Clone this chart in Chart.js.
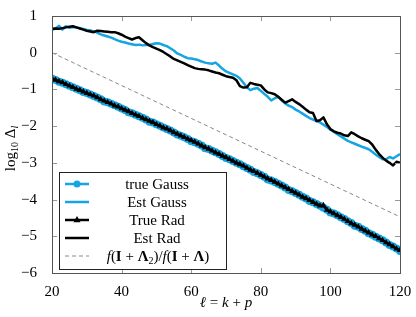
<!DOCTYPE html>
<html>
<head>
<meta charset="utf-8">
<script src="https://cdn.jsdelivr.net/npm/chart.js@4"></script>
<style>
  html, body { margin: 0; padding: 0; background: #fff; }
  #c { display: block; }
</style>
</head>
<body>
<canvas id="c" width="416" height="317"></canvas>
<script>
// ---- data ----
const ells = [20,21,22,23,24,25,26,27,28,29,30,31,32,33,34,35,36,37,38,39,
  40,41,42,43,44,45,46,47,48,49,50,51,52,53,54,55,56,57,58,59,
  60,61,62,63,64,65,66,67,68,69,70,71,72,73,74,75,76,77,78,79,
  80,81,82,83,84,85,86,87,88,89,90,91,92,93,94,95,96,97,98,99,
  100,101,102,103,104,105,106,107,108,109,110,111,112,113,114,115,116,117,118,119,120];

const trueGauss = [-0.70,-0.74,-0.79,-0.82,-0.86,-0.90,-0.94,-0.98,-1.02,-1.07,
  -1.10,-1.14,-1.18,-1.22,-1.27,-1.33,-1.35,-1.39,-1.43,-1.47,
  -1.52,-1.56,-1.62,-1.65,-1.69,-1.73,-1.77,-1.82,-1.88,-1.90,
  -1.95,-1.99,-2.04,-2.08,-2.12,-2.17,-2.23,-2.26,-2.30,-2.35,
  -2.41,-2.44,-2.48,-2.53,-2.60,-2.62,-2.67,-2.71,-2.76,-2.81,
  -2.87,-2.90,-2.95,-3.00,-3.04,-3.09,-3.14,-3.19,-3.25,-3.28,
  -3.33,-3.38,-3.45,-3.48,-3.52,-3.57,-3.62,-3.67,-3.74,-3.77,
  -3.82,-3.87,-3.92,-3.97,-4.04,-4.07,-4.12,-4.17,-4.22,-4.28,
  -4.35,-4.38,-4.43,-4.48,-4.53,-4.59,-4.64,-4.71,-4.74,-4.80,
  -4.85,-4.92,-4.96,-5.01,-5.06,-5.11,-5.17,-5.24,-5.28,-5.33,
  -5.40];

const estGauss = [0.62,0.66,0.73,0.63,0.72,0.68,0.70,0.69,0.67,0.65,
  0.62,0.61,0.58,0.55,0.50,0.47,0.44,0.41,0.37,0.33,
  0.30,0.28,0.25,0.23,0.21,0.22,0.20,0.21,0.21,0.24,
  0.26,0.25,0.21,0.18,0.12,0.06,-0.02,-0.06,-0.11,-0.15,
  -0.16,-0.18,-0.20,-0.24,-0.27,-0.29,-0.30,-0.27,-0.35,-0.44,
  -0.51,-0.55,-0.59,-0.63,-0.70,-0.82,-0.94,-1.02,-0.98,-0.96,
  -1.04,-1.12,-1.20,-1.30,-1.24,-1.20,-1.30,-1.38,-1.44,-1.48,
  -1.55,-1.60,-1.66,-1.72,-1.78,-1.82,-1.86,-1.90,-1.96,-2.02,
  -2.10,-2.16,-2.22,-2.28,-2.34,-2.40,-2.44,-2.48,-2.52,-2.56,
  -2.59,-2.63,-2.70,-2.77,-2.84,-2.90,-2.90,-2.84,-2.88,-2.82,
  -2.76];

const trueRad = [-0.70,-0.74,-0.78,-0.81,-0.86,-0.90,-0.94,-0.99,-1.02,-1.06,
  -1.10,-1.14,-1.17,-1.22,-1.27,-1.31,-1.35,-1.39,-1.44,-1.47,
  -1.52,-1.56,-1.60,-1.65,-1.69,-1.73,-1.78,-1.82,-1.86,-1.90,
  -1.95,-1.99,-2.04,-2.07,-2.12,-2.17,-2.21,-2.26,-2.30,-2.35,
  -2.39,-2.43,-2.48,-2.53,-2.58,-2.62,-2.67,-2.72,-2.76,-2.81,
  -2.85,-2.90,-2.95,-3.00,-3.04,-3.08,-3.14,-3.19,-3.23,-3.28,
  -3.33,-3.38,-3.43,-3.47,-3.52,-3.57,-3.62,-3.67,-3.72,-3.77,
  -3.82,-3.87,-3.93,-3.97,-4.02,-4.07,-4.12,-4.17,-4.16,-4.28,
  -4.33,-4.38,-4.43,-4.48,-4.53,-4.59,-4.65,-4.69,-4.74,-4.80,
  -4.85,-4.90,-4.96,-5.00,-5.06,-5.11,-5.17,-5.22,-5.28,-5.34,
  -5.38];

const estRad = [0.65,0.66,0.65,0.67,0.69,0.71,0.72,0.69,0.66,0.63,
  0.60,0.58,0.56,0.60,0.59,0.58,0.57,0.56,0.56,0.53,
  0.49,0.44,0.40,0.36,0.40,0.42,0.34,0.26,0.20,0.15,
  0.11,0.07,0.02,-0.04,-0.10,-0.17,-0.21,-0.25,-0.29,-0.34,
  -0.38,-0.42,-0.44,-0.45,-0.46,-0.48,-0.51,-0.54,-0.56,-0.60,
  -0.64,-0.66,-0.68,-0.75,-0.91,-0.95,-0.94,-0.82,-0.85,-0.87,
  -0.89,-1.00,-1.08,-1.10,-1.13,-1.20,-1.28,-1.36,-1.32,-1.27,
  -1.34,-1.40,-1.47,-1.55,-1.62,-1.64,-1.86,-1.84,-1.76,-1.95,
  -2.08,-2.14,-2.18,-2.20,-2.25,-2.27,-2.17,-2.22,-2.28,-2.33,
  -2.37,-2.41,-2.50,-2.64,-2.76,-2.86,-2.94,-3.00,-3.07,-2.97,
  -3.00];

const ratioX = [20, 120];
const ratioY = [0, -4.47];

const xTicks = [20, 40, 60, 80, 100, 120];
const yTicks = [-6, -5, -4, -3, -2, -1, 0, 1];

// ---- styles ----
const BLUE = "#14a5e2";
const SERIF = "'Liberation Serif', 'DejaVu Serif', serif";

function pts(xs, ys) {
  return xs.map((x, i) => ({ x: x, y: ys[i] }));
}

// draws a run of text pieces with different fonts, centred on x
function drawRich(ctx, pieces, x, y) {
  let total = 0;
  pieces.forEach(p => { ctx.font = p.f; total += ctx.measureText(p.t).width; });
  let cx = x - total / 2;
  ctx.textAlign = "left";
  ctx.textBaseline = "alphabetic";
  pieces.forEach(p => {
    ctx.font = p.f;
    ctx.fillText(p.t, cx, y + (p.dy || 0));
    cx += ctx.measureText(p.t).width;
  });
}

const N = "15px " + SERIF;
const I = "italic 15px " + SERIF;
const B = "bold 15px " + SERIF;
const S = "10px " + SERIF;
const SI = "italic 10px " + SERIF;

const decorPlugin = {
  id: "decor",
  afterDraw(chart) {
    const ctx = chart.ctx;
    const a = chart.chartArea;
    const xs = chart.scales.x, ys = chart.scales.y;
    ctx.save();

    // inward tick marks on all four sides
    ctx.strokeStyle = "#999";
    ctx.lineWidth = 1;
    xTicks.forEach(v => {
      const px = Math.round(xs.getPixelForValue(v)) + 0.5;
      ctx.beginPath();
      ctx.moveTo(px, a.bottom); ctx.lineTo(px, a.bottom - 5);
      ctx.moveTo(px, a.top); ctx.lineTo(px, a.top + 5);
      ctx.stroke();
    });
    yTicks.forEach(v => {
      const py = Math.round(ys.getPixelForValue(v)) + 0.5;
      ctx.beginPath();
      ctx.moveTo(a.left, py); ctx.lineTo(a.left + 5, py);
      ctx.moveTo(a.right, py); ctx.lineTo(a.right - 5, py);
      ctx.stroke();
    });

    // frame
    ctx.strokeStyle = "#555";
    ctx.strokeRect(Math.round(a.left) + 0.5, Math.round(a.top) + 0.5,
      Math.round(a.right - a.left), Math.round(a.bottom - a.top));

    // legend box
    const lx = 59, ly = 172, lw = 167, lh = 97;
    ctx.fillStyle = "#fff";
    ctx.fillRect(lx, ly, lw, lh);
    ctx.strokeStyle = "#222";
    ctx.strokeRect(lx + 0.5, ly + 0.5, lw, lh);

    const rows = [184, 202, 220, 238, 256];
    const sx0 = 65, sx1 = 89, tx = 157;
    const sample = (y, color, width, dash) => {
      ctx.strokeStyle = color;
      ctx.lineWidth = width;
      ctx.setLineDash(dash || []);
      ctx.beginPath();
      ctx.moveTo(sx0, y); ctx.lineTo(sx1, y);
      ctx.stroke();
      ctx.setLineDash([]);
    };
    sample(rows[0], BLUE, 2.5);
    ctx.fillStyle = BLUE;
    ctx.beginPath(); ctx.arc(77, rows[0], 3.5, 0, Math.PI * 2); ctx.fill();
    sample(rows[1], BLUE, 2.5);
    sample(rows[2], "#000", 2.5);
    ctx.fillStyle = "#000";
    ctx.beginPath();
    ctx.moveTo(77, rows[2] - 4); ctx.lineTo(80.5, rows[2] + 2.2); ctx.lineTo(73.5, rows[2] + 2.2);
    ctx.closePath(); ctx.fill();
    sample(rows[3], "#000", 2.5);
    sample(rows[4], "#888", 1, [4, 3]);

    ctx.fillStyle = "#000";
    const base = 5;
    drawRich(ctx, [{ t: "true Gauss", f: N }], tx, rows[0] + base);
    drawRich(ctx, [{ t: "Est Gauss", f: N }], tx, rows[1] + base);
    drawRich(ctx, [{ t: "True Rad", f: N }], tx, rows[2] + base);
    drawRich(ctx, [{ t: "Est Rad", f: N }], tx, rows[3] + base);
    drawRich(ctx, [
      { t: "f", f: I }, { t: "(", f: N }, { t: "I", f: B }, { t: " + ", f: N },
      { t: "Λ", f: B }, { t: "2", f: S, dy: 3 }, { t: ")/", f: N },
      { t: "f", f: I }, { t: "(", f: N }, { t: "I", f: B }, { t: " + ", f: N },
      { t: "Λ", f: B }, { t: ")", f: N }
    ], 158, rows[4] + base);

    // x axis title
    drawRich(ctx, [
      { t: "ℓ", f: I }, { t: " = ", f: N }, { t: "k", f: I },
      { t: " + ", f: N }, { t: "p", f: I }
    ], (a.left + a.right) / 2, 307);

    // y axis title (rotated)
    ctx.translate(15, (a.top + a.bottom) / 2 + 4);
    ctx.rotate(-Math.PI / 2);
    drawRich(ctx, [
      { t: "log", f: N }, { t: "10", f: S, dy: 3 }, { t: " Δ", f: N },
      { t: "l", f: SI, dy: 3 }
    ], 0, 0);

    ctx.restore();
  }
};

new Chart(document.getElementById("c"), {
  type: "line",
  data: {
    datasets: [
      {
        label: "true Gauss", data: pts(ells, trueGauss), order: 5,
        borderColor: BLUE, backgroundColor: BLUE, borderWidth: 2.5,
        pointStyle: "circle", pointRadius: 4, pointBorderWidth: 0
      },
      {
        label: "Est Gauss", data: pts(ells, estGauss), order: 4,
        borderColor: BLUE, borderWidth: 2.5, pointRadius: 0
      },
      {
        label: "True Rad", data: pts(ells, trueRad), order: 3,
        borderColor: "#000", backgroundColor: "#000", borderWidth: 2.5,
        pointStyle: "triangle", pointRadius: 3.6, pointBorderWidth: 0
      },
      {
        label: "Est Rad", data: pts(ells, estRad), order: 2,
        borderColor: "#000", borderWidth: 2.5, pointRadius: 0
      },
      {
        label: "ratio", data: pts(ratioX, ratioY), order: 1,
        borderColor: "#888", borderWidth: 1, borderDash: [4, 3], pointRadius: 0
      }
    ]
  },
  options: {
    responsive: false,
    animation: false,
    devicePixelRatio: 1,
    layout: { padding: { top: 10, right: 16, left: 0, bottom: 0 } },
    plugins: { legend: { display: false }, tooltip: { enabled: false } },
    elements: { line: { tension: 0, borderJoinStyle: "round" } },
    scales: {
      x: {
        type: "linear", min: 20, max: 120,
        grid: { display: false }, border: { display: false },
        afterBuildTicks: s => { s.ticks = xTicks.map(v => ({ value: v })); },
        ticks: { color: "#000", font: { family: SERIF, size: 15 }, padding: 2, maxRotation: 0 },
        afterFit: s => { s.height = 44; }
      },
      y: {
        type: "linear", min: -6, max: 1,
        grid: { display: false }, border: { display: false },
        afterBuildTicks: s => { s.ticks = yTicks.map(v => ({ value: v })); },
        ticks: {
          color: "#000", font: { family: SERIF, size: 15 }, padding: 7,
          callback: v => (v < 0 ? "\u2212" + Math.abs(v) : String(v))
        },
        afterFit: s => { s.width = 52; }
      }
    }
  },
  plugins: [decorPlugin]
});
</script>
</body>
</html>
